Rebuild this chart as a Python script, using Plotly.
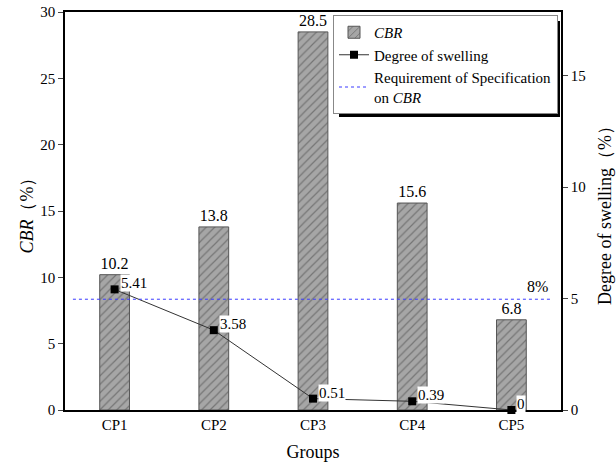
import plotly.graph_objects as go

groups = ["CP1", "CP2", "CP3", "CP4", "CP5"]
cbr = [10.2, 13.8, 28.5, 15.6, 6.8]
swelling = [5.41, 3.58, 0.51, 0.39, 0.0]
swelling_labels = ["5.41", "3.58", "0.51", "0.39", "0"]
spec_cbr = 8.35
spec_label = "8%"

FONT = "Liberation Serif"
SPEC_COLOR = "#3a3aff"

fig = go.Figure()

fig.add_trace(go.Bar(
    x=groups, y=cbr, name="<i>CBR</i>", width=0.3,
    marker=dict(color="#a6a6a6", line=dict(color="#555555", width=1),
                pattern=dict(shape="/", fgcolor="#444444", bgcolor="#a6a6a6", size=6, solidity=0.2)),
    text=[str(v) for v in cbr], textposition="outside",
    textfont=dict(family=FONT, size=16, color="black"), cliponaxis=False,
    yaxis="y",
))

fig.add_trace(go.Scatter(
    x=groups, y=swelling, name="Degree of swelling", mode="lines+markers",
    line=dict(color="#333333", width=1),
    marker=dict(symbol="square", size=8, color="black"),
    yaxis="y2", cliponaxis=False,
))

# legend entry for specification line (line itself drawn as a shape)
fig.add_trace(go.Scatter(
    x=[None], y=[None], name="Requirement of Specification<br>on <i>CBR</i>",
    mode="lines", line=dict(color=SPEC_COLOR, width=1, dash="3px,3px"),
    yaxis="y",
))

fig.add_shape(type="line", xref="paper", yref="y", x0=0.016, x1=0.982, y0=spec_cbr, y1=spec_cbr,
              line=dict(color=SPEC_COLOR, width=1, dash="3px,3px"), layer="above")

for g, v, t in zip(groups, swelling, swelling_labels):
    fig.add_annotation(x=g, y=v, yref="y2", text=t, showarrow=False,
                       xanchor="left", xshift=5, yshift=6, bgcolor="white",
                       borderpad=0, font=dict(family=FONT, size=15, color="black"))

fig.add_annotation(x=1, xref="paper", y=spec_cbr, yref="y", text=spec_label, showarrow=False,
                   xanchor="right", yanchor="bottom", xshift=-11, yshift=2,
                   font=dict(family=FONT, size=16, color="black"))

# legend shadow
fig.add_shape(type="rect", xref="paper", yref="paper",
              x0=(339 - 65) / 496, x1=(560 - 65) / 496,
              y0=(410 - 117) / 398, y1=(410 - 21) / 398,
              fillcolor="black", line=dict(width=0), layer="above")

fig.update_layout(
    width=616, height=466,
    margin=dict(l=65, r=55, t=12, b=56, autoexpand=False),
    paper_bgcolor="white", plot_bgcolor="white",
    font=dict(family=FONT, size=15, color="black"),
    showlegend=True,
    legend=dict(x=(333 - 65) / 496, y=(410 - 15) / 398, xanchor="left", yanchor="top",
                bgcolor="white", bordercolor="#888888", borderwidth=1,
                font=dict(family=FONT, size=15), tracegroupgap=0, itemwidth=30),
    xaxis=dict(type="category", range=[-0.5, 4.5], showline=True, linecolor="black", linewidth=1.5,
               mirror=True, ticks="", tickfont=dict(family=FONT, size=15), automargin=False,
               title=dict(text="Groups", font=dict(family=FONT, size=18), standoff=14)),
    yaxis=dict(range=[0, 30], dtick=5, showline=True, linecolor="black", linewidth=1.5,
               ticks="outside", ticklen=5, showgrid=False, zeroline=False, automargin=False,
               tickfont=dict(family=FONT, size=15),
               title=dict(text="<i>CBR</i>（%）", font=dict(family=FONT, size=18), standoff=2)),
    yaxis2=dict(range=[0, 17.85], tickvals=[0, 5, 10, 15], overlaying="y", side="right",
                showline=True, linecolor="black", linewidth=1.5, ticks="outside", ticklen=5,
                showgrid=False, zeroline=False, automargin=False, tickfont=dict(family=FONT, size=15),
                title=dict(text="Degree of swelling（%）", font=dict(family=FONT, size=18), standoff=14)),
)

fig.write_html("out.html")
